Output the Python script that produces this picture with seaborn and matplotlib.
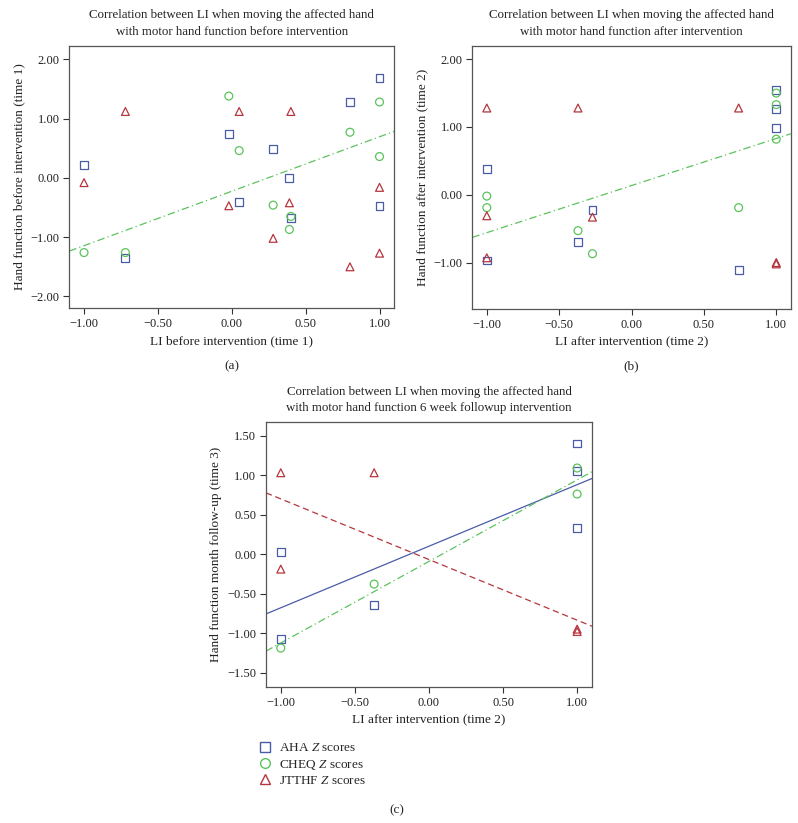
import matplotlib
matplotlib.use("Agg")
import matplotlib.pyplot as plt
from matplotlib.lines import Line2D
from matplotlib.ticker import FuncFormatter
import numpy as np
import pandas as pd
import seaborn as sns

# --- data ---
# time 1: LI before intervention (one value per patient)
li_t1 = [-1.00, -0.72, -0.02, 0.05, 0.28, 0.39, 0.40, 0.80, 1.00, 1.00]
aha_t1 = [0.21, -1.35, 0.74, -0.40, 0.48, 0.00, -0.67, 1.28, 1.69, -0.47]
cheq_t1 = [-1.26, -1.26, 1.38, 0.46, -0.46, -0.87, -0.65, 0.77, 1.28, 0.36]
jtthf_t1 = [-0.08, 1.12, -0.47, 1.12, -1.02, -0.42, 1.12, -1.50, -0.16, -1.27]

# time 2: LI after intervention
aha_t2_x = [-1.00, -1.00, -0.37, -0.27, 0.74, 1.00, 1.00, 1.00]
aha_t2 = [0.38, -0.97, -0.70, -0.22, -1.11, 1.54, 1.26, 0.99]
cheq_t2_x = [-1.00, -1.00, -0.37, -0.27, 0.74, 1.00, 1.00, 1.00]
cheq_t2 = [-0.02, -0.19, -0.53, -0.87, -0.19, 1.50, 1.33, 0.82]
jtthf_t2_x = [-1.00, -1.00, -1.00, -0.37, -0.27, 0.74, 1.00, 1.00]
jtthf_t2 = [1.28, -0.31, -0.93, 1.28, -0.33, 1.28, -1.00, -1.02]

# time 3: 6 week follow-up against LI after intervention
aha_t3_x = [-1.00, -1.00, -0.37, 1.00, 1.00, 1.00]
aha_t3 = [0.03, -1.08, -0.64, 1.40, 1.05, 0.33]
cheq_t3_x = [-1.00, -0.37, 1.00, 1.00]
cheq_t3 = [-1.19, -0.38, 1.09, 0.76]
jtthf_t3_x = [-1.00, -1.00, -0.37, 1.00, 1.00]
jtthf_t3 = [1.03, -0.19, 1.03, -0.95, -0.98]

measures = ["AHA", "CHEQ", "JTTHF"]
colors = {"AHA": "#4a5ca8", "CHEQ": "#5cc25c", "JTTHF": "#b5363e"}
markers = {"AHA": "s", "CHEQ": "o", "JTTHF": "^"}
line_styles = {"AHA": "-", "CHEQ": (0, (6, 2.5, 1, 2.5)), "JTTHF": (0, (5, 3))}

sns.set_style("ticks")
plt.rcParams["font.family"] = ["Liberation Serif", "DejaVu Serif"]
plt.rcParams["mathtext.fontset"] = "custom"
plt.rcParams["mathtext.rm"] = "Liberation Serif"
plt.rcParams["mathtext.it"] = "Liberation Serif:italic"

fig = plt.figure(figsize=(7.98, 8.23), dpi=100)
ax_a = fig.add_axes([0.0868, 0.6254, 0.4073, 0.3191])
ax_b = fig.add_axes([0.5919, 0.6242, 0.3990, 0.3203])
ax_c = fig.add_axes([0.3333, 0.1655, 0.4085, 0.3215])

# two decimals with a real minus sign
fmt = FuncFormatter(lambda v, pos: f"{v:.2f}".replace("-", "\u2212"))


def draw_panel(ax, series, fit, title, xlabel, ylabel, ylim, yticks):
    xlim = (-1.1, 1.1)
    ax.set_xlim(xlim)
    ax.set_ylim(ylim)
    for name in measures:
        x, y = series[name]
        sns.scatterplot(x=x, y=y, ax=ax, marker=markers[name], s=32,
                        color=colors[name], facecolors="none",
                        edgecolor=colors[name], linewidth=0.9, zorder=3)
    for name in fit:
        x, y = series[name]
        sns.regplot(x=np.array(x), y=np.array(y), ax=ax, scatter=False,
                    ci=None, truncate=False,
                    line_kws=dict(color=colors[name], lw=0.9,
                                  linestyle=line_styles[name]))
    ax.set_xlim(xlim)
    ax.set_ylim(ylim)
    ax.set_xticks([-1.0, -0.5, 0.0, 0.5, 1.0])
    ax.set_yticks(yticks)
    ax.xaxis.set_major_formatter(fmt)
    ax.yaxis.set_major_formatter(fmt)
    ax.tick_params(direction="out", length=4, width=0.8, colors="#333333",
                   labelcolor="#222222", labelsize=9, pad=3)
    for sp in ax.spines.values():
        sp.set_color("#555555")
        sp.set_linewidth(0.9)
    ax.set_title(title, fontsize=9.3, pad=8, linespacing=1.5, color="#222222")
    ax.set_xlabel(xlabel, fontsize=9.5, color="#222222", labelpad=4)
    ax.set_ylabel(ylabel, fontsize=9.5, color="#222222", labelpad=4)


draw_panel(ax_a,
           {"AHA": (li_t1, aha_t1), "CHEQ": (li_t1, cheq_t1), "JTTHF": (li_t1, jtthf_t1)},
           ["CHEQ"],
           "Correlation between LI when moving the affected hand\n"
           "with motor hand function before intervention",
           "LI before intervention (time 1)",
           "Hand function before intervention (time 1)",
           (-2.2, 2.23), [-2, -1, 0, 1, 2])

draw_panel(ax_b,
           {"AHA": (aha_t2_x, aha_t2), "CHEQ": (cheq_t2_x, cheq_t2),
            "JTTHF": (jtthf_t2_x, jtthf_t2)},
           ["CHEQ"],
           "Correlation between LI when moving the affected hand\n"
           "with motor hand function after intervention",
           "LI after intervention (time 2)",
           "Hand function after intervention (time 2)",
           (-1.69, 2.2), [-1, 0, 1, 2])

draw_panel(ax_c,
           {"AHA": (aha_t3_x, aha_t3), "CHEQ": (cheq_t3_x, cheq_t3),
            "JTTHF": (jtthf_t3_x, jtthf_t3)},
           ["AHA", "CHEQ", "JTTHF"],
           "Correlation between LI when moving the affected hand\n"
           "with motor hand function 6 week followup intervention",
           "LI after intervention (time 2)",
           "Hand function month follow-up (time 3)",
           (-1.68, 1.67), [-1.5, -1.0, -0.5, 0.0, 0.5, 1.0, 1.5])

# panel letters
fig.text(0.2905, 1 - 366 / 823, "(a)", ha="center", va="center", fontsize=9.5)
fig.text(0.7914, 1 - 366 / 823, "(b)", ha="center", va="center", fontsize=9.5)
fig.text(0.497, 1 - 810 / 823, "(c)", ha="center", va="center", fontsize=9.5)

# shared legend under panel (c)
handles = [Line2D([], [], marker=markers[m], linestyle="none", markersize=7,
                  markerfacecolor="none", markeredgecolor=colors[m],
                  markeredgewidth=1.0) for m in measures]
labels = ["AHA $Z$ scores", "CHEQ $Z$ scores", "JTTHF $Z$ scores"]
fig.legend(handles, labels, loc="upper left", frameon=False, fontsize=9.5,
           bbox_to_anchor=(258 / 798, 1 - 742 / 823), handlelength=1.0,
           handletextpad=0.6, labelspacing=0.25, borderaxespad=0,
           borderpad=0)

fig.savefig("out.png", dpi=100)
